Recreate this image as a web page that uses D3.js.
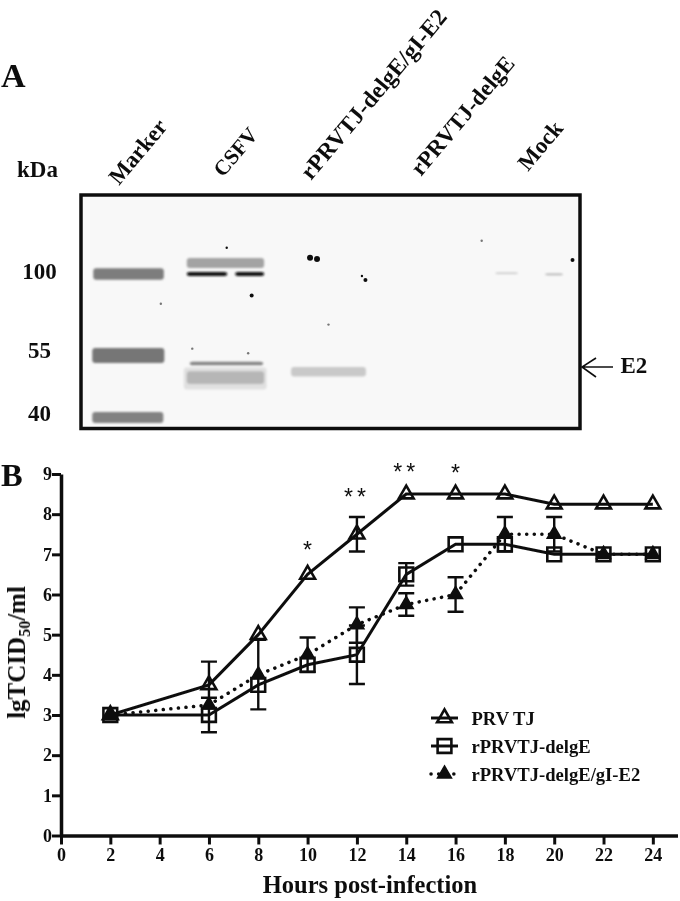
<!DOCTYPE html>
<meta charset="utf-8">
<style>
body { margin: 0; background: #fff; }
svg { display: block; }
text { font-family: "Liberation Serif", serif; font-weight: bold; fill: #111; }
.axis path, .axis line { stroke: #111; stroke-width: 3.5px; }
.axis line { stroke-width: 3px; }
.axis text { font-family: "Liberation Serif", serif; font-size: 18px; font-weight: bold; fill: #111; }
.series { fill: none; stroke: #111; stroke-width: 3px; }
.dotted { stroke-dasharray: 0.1 7.5; stroke-linecap: round; stroke-width: 3.5px; }
.err { stroke: #111; stroke-width: 2.4px; fill: none; }
</style>
<body>
<script src="https://cdn.jsdelivr.net/npm/d3@7"></script>
<script>

// panel B data
var hours = [2, 6, 8, 10, 12, 14, 16, 18, 20, 22, 24];
var prvTJ = [3, 3.75, 5, 6.5, 7.5, 8.5, 8.5, 8.5, 8.25, 8.25, 8.25];
var prvLow = [null, 3.17, null, null, 7.07, null, null, null, null, null, null];
var prvHigh = [null, 4.33, null, null, 7.93, null, null, null, null, null, null];
var delgE = [3, 3, 3.75, 4.25, 4.5, 6.5, 7.25, 7.25, 7, 7, 7];
var delgLow = [null, 2.57, 3.14, null, 3.77, 6.22, null, null, null, null, null];
var delgHigh = [null, 3.43, 4.87, null, 5.23, 6.78, null, null, null, null, null];
var delgE2 = [3, 3.25, 4, 4.5, 5.25, 5.75, 6, 7.5, 7.5, 7, 7];
var e2Low = [null, null, null, 4.07, 4.8, 5.47, 5.57, 7.07, 7.07, null, null];
var e2High = [null, null, null, 4.93, 5.68, 6.03, 6.43, 7.93, 7.93, null, null];
var xTicks = [0, 2, 4, 6, 8, 10, 12, 14, 16, 18, 20, 22, 24];
var yTicks = [0, 1, 2, 3, 4, 5, 6, 7, 8, 9];
var starHours = [10, 12, 14, 16];
var starLevels = [6.92, 8.22, 8.85, 8.82];
var starLabels = ["*", "**", "**", "*"];
var legendNames = ["PRV TJ", "rPRVTJ-delgE", "rPRVTJ-delgE/gI-E2"];

// panel A data, read as percent of the blot frame
var laneNames = ["Marker", "CSFV", "rPRVTJ-delgE/gI-E2", "rPRVTJ-delgE", "Mock"];
var kdaLabels = ["100", "55", "40"];
var kdaLevels = [36, 69.8, 96.7];
var bandFrom = [2.46, 2.26, 2.26, 21.2, 21.2, 30.9, 21.8, 20.6, 21.2, 42.1, 83, 93];
var bandTo = [16.6, 16.7, 16.5, 36.7, 29.3, 36.7, 36.5, 37.2, 36.7, 57.1, 87.6, 96.6];
var bandMid = [33.8, 68.7, 95.3, 29.1, 33.8, 33.8, 72.2, 78.6, 78.2, 75.7, 33.5, 34];
var bandThick = [4.9, 6.4, 4.7, 4.3, 1.7, 1.7, 1.5, 9.5, 5.5, 4, 0.7, 0.7];
var bandDensity = [0.52, 0.55, 0.5, 0.36, 1, 1, 0.5, 0.1, 0.28, 0.2, 0.22, 0.3];
var speckX = [29.2, 34.2, 45.9, 47.3, 56.3, 57, 16, 49.6, 22.3, 33.5, 98.5, 80.3];
var speckY = [22.6, 43, 26.9, 27.4, 34.7, 36.4, 46.6, 55.5, 65.8, 67.8, 27.8, 19.6];

// set the dimensions
var width = 680, height = 901;

var svg = d3.select("body").append("svg")
    .attr("width", width)
    .attr("height", height);

var defs = svg.append("defs");
defs.append("filter").attr("id", "soft")
    .append("feGaussianBlur").attr("stdDeviation", 0.5);
defs.append("filter").attr("id", "band")
    .attr("x", "-10%").attr("y", "-60%").attr("width", "120%").attr("height", "220%")
    .append("feGaussianBlur").attr("stdDeviation", 1.2);

var page = svg.append("g").attr("filter", "url(#soft)");

// ---- panel A
var blotX = d3.scaleLinear().domain([0, 100]).range([81, 580]);
var blotY = d3.scaleLinear().domain([0, 100]).range([195, 428.5]);
var density = d3.scaleLinear().domain([0, 1]).range(["#f8f8f8", "#0c0c0c"]);

page.append("text").attr("x", 1).attr("y", 87).style("font-size", "34px").text("A");
page.append("text").attr("x", 17).attr("y", 176.5).style("font-size", "23px").text("kDa");

var laneStartX = [119, 223, 311, 421, 528];
var laneStartY = [186, 178, 181, 177, 172];
var laneSize = [23, 21.5, 23.5, 23, 23];
page.selectAll(".lane")
    .data(laneNames)
  .enter().append("text")
    .attr("class", "lane")
    .attr("transform", function(d, i) {
      return "translate(" + laneStartX[i] + "," + laneStartY[i] + ") rotate(-50)";
    })
    .style("font-size", function(d, i) { return laneSize[i] + "px"; })
    .text(function(d) { return d; });

page.append("rect")
    .attr("x", blotX(0)).attr("y", blotY(0))
    .attr("width", blotX(100) - blotX(0)).attr("height", blotY(100) - blotY(0))
    .attr("fill", "#f8f8f8");

var bands = page.append("g").attr("filter", "url(#band)");
bandMid.forEach(function(mid, i) {
  bands.append("rect")
      .attr("x", blotX(bandFrom[i]))
      .attr("y", blotY(mid - bandThick[i] / 2))
      .attr("width", blotX(bandTo[i]) - blotX(bandFrom[i]))
      .attr("height", blotY(bandThick[i]) - blotY(0))
      .attr("rx", 3)
      .attr("fill", density(bandDensity[i]));
});

page.selectAll(".speck")
    .data(speckX)
  .enter().append("circle")
    .attr("class", "speck")
    .attr("cx", function(d) { return blotX(d); })
    .attr("cy", function(d, i) { return blotY(speckY[i]); })
    .attr("r", function(d, i) { return i == 2 || i == 3 ? 3 : i == 1 || i == 5 || i == 10 ? 2 : 1.2; })
    .attr("fill", function(d, i) { return i > 5 && i != 10 ? "#777" : "#111"; });

page.append("rect")
    .attr("x", blotX(0)).attr("y", blotY(0))
    .attr("width", blotX(100) - blotX(0)).attr("height", blotY(100) - blotY(0))
    .attr("fill", "none").attr("stroke", "#111").attr("stroke-width", 3.5);

page.selectAll(".kda")
    .data(kdaLabels)
  .enter().append("text")
    .attr("class", "kda")
    .attr("x", 39.5)
    .attr("y", function(d, i) { return blotY(kdaLevels[i]); })
    .attr("text-anchor", "middle")
    .style("font-size", "23px")
    .text(function(d) { return d; });

// arrow to the E2 band
page.append("path")
    .attr("d", "M613,367H582M596,358L582,367L596,377")
    .attr("fill", "none").attr("stroke", "#111").attr("stroke-width", 1.6);
page.append("text").attr("x", 620.5).attr("y", 372.5).style("font-size", "23px").text("E2");

// ---- panel B
var x = d3.scaleLinear().domain([0, 25]).range([61, 677.5]);
var y = d3.scaleLinear().domain([0, 9]).range([835.5, 474]);

page.append("text").attr("x", 1).attr("y", 486).style("font-size", "32.5px").text("B");

page.append("g")
    .attr("class", "axis")
    .attr("transform", "translate(0,835.5)")
    .call(d3.axisBottom(x).tickValues(xTicks).tickSize(9).tickPadding(4).tickSizeOuter(0));

page.append("g")
    .attr("class", "axis")
    .attr("transform", "translate(61,0)")
    .call(d3.axisLeft(y).tickValues(yTicks).tickSize(9).tickPadding(0).tickSizeOuter(0));

var line = d3.line()
    .x(function(d) { return x(d.hour); })
    .y(function(d) { return y(d.value); });

var triangle = d3.symbol().type(d3.symbolTriangle).size(95);
var square = d3.symbol().type(d3.symbolSquare).size(190);
var smallTriangle = d3.symbol().type(d3.symbolTriangle).size(85);

function drawSeries(values, low, high, lineClass, shape, fill) {
  var rows = hours.map(function(h, i) {
    return {hour: h, value: values[i], low: low[i], high: high[i]};
  });
  var g = page.append("g");
  g.selectAll(".err")
      .data(rows.filter(function(d) { return d.low !== null; }))
    .enter().append("path")
      .attr("class", "err")
      .attr("d", function(d) {
        var cx = x(d.hour), lo = y(d.low), hi = y(d.high);
        return "M" + (cx - 8) + "," + lo + "H" + (cx + 8) + "M" + cx + "," + lo + "V" + hi +
               "M" + (cx - 8) + "," + hi + "H" + (cx + 8);
      });
  g.append("path").datum(rows).attr("class", "series " + lineClass).attr("d", line);
  g.selectAll(".mark")
      .data(rows)
    .enter().append("path")
      .attr("class", "mark")
      .attr("transform", function(d) { return "translate(" + x(d.hour) + "," + y(d.value) + ")"; })
      .attr("d", shape)
      .attr("fill", fill)
      .attr("stroke", "#111")
      .attr("stroke-width", fill == "none" ? 2.6 : 1.5);
}

drawSeries(prvTJ, prvLow, prvHigh, "", triangle, "none");
drawSeries(delgE2, e2Low, e2High, "dotted", smallTriangle, "#111");
drawSeries(delgE, delgLow, delgHigh, "", square, "none");

// significance stars
starHours.forEach(function(h, i) {
  page.append("text")
      .attr("x", x(h))
      .attr("y", y(starLevels[i]))
      .attr("text-anchor", "middle")
      .style("font-family", "'Liberation Sans', sans-serif")
      .style("font-weight", "normal")
      .style("font-size", "23px")
      .style("letter-spacing", starLabels[i].length > 1 ? "4px" : "0")
      .text(starLabels[i]);
});

// legend
var legendY = [718, 746, 774];
var legendShapes = [triangle, square, smallTriangle];
legendNames.forEach(function(name, i) {
  page.append("path")
      .attr("class", "series" + (i == 2 ? " dotted" : ""))
      .attr("d", "M431," + legendY[i] + "H458");
  page.append("path")
      .attr("transform", "translate(444.5," + legendY[i] + ")")
      .attr("d", legendShapes[i])
      .attr("fill", i == 2 ? "#111" : "none")
      .attr("stroke", "#111")
      .attr("stroke-width", i == 2 ? 1.5 : 2.6);
  page.append("text")
      .attr("x", 471.5)
      .attr("y", legendY[i] + 6.5)
      .style("font-size", "18.6px")
      .text(name);
});

// axis titles
page.append("text")
    .attr("x", 370).attr("y", 893)
    .attr("text-anchor", "middle")
    .style("font-size", "24.5px")
    .text("Hours post-infection");

var yTitle = page.append("text")
    .attr("transform", "translate(25,652.5) rotate(-90)")
    .attr("text-anchor", "middle")
    .style("font-size", "25px");
yTitle.append("tspan").text("lgTCID");
yTitle.append("tspan").attr("dy", 5).style("font-size", "16px").text("50");
yTitle.append("tspan").attr("dy", -5).text("/ml");

</script>
</body>
